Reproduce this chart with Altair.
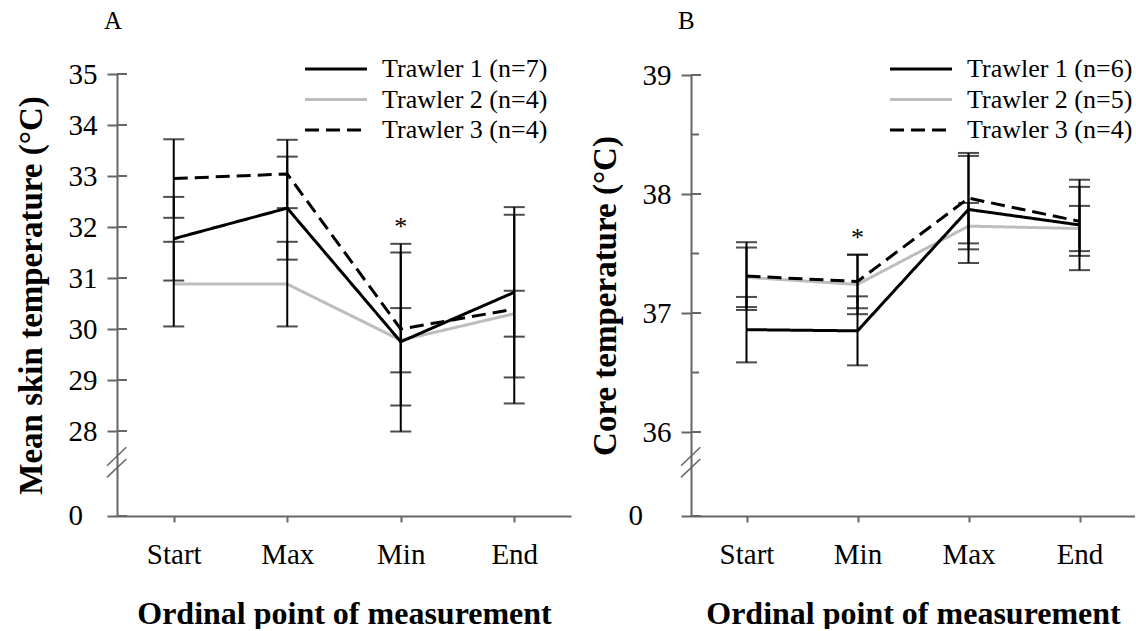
import altair as alt
import pandas as pd

# ---- data -------------------------------------------------------------
TRAWLERS = ["Trawler 1", "Trawler 2", "Trawler 3"]

# Panel A: mean skin temperature (°C), mean ± SD
POINTS_A = ["Start", "Max", "Min", "End"]
N_A = [7, 4, 4]
SKIN_MEAN = [
    [31.77, 32.37, 29.75, 30.72],
    [30.88, 30.88, 29.78, 30.30],
    [32.95, 33.04, 30.00, 30.39],
]
SKIN_SD = [
    [0.82, 1.01, 1.92, 1.67],
    [0.83, 0.83, 0.63, 0.45],
    [0.77, 0.67, 1.50, 1.85],
]
SKIN_TICKS = [0, 28, 29, 30, 31, 32, 33, 34, 35]

# Panel B: core temperature (°C), mean ± SD
POINTS_B = ["Start", "Min", "Max", "End"]
N_B = [6, 5, 4]
CORE_MEAN = [
    [36.86, 36.85, 37.87, 37.74],
    [37.30, 37.24, 37.73, 37.71],
    [37.31, 37.265, 37.965, 37.77],
]
CORE_SD = [
    [0.275, 0.29, 0.45, 0.38],
    [0.25, 0.25, 0.195, 0.19],
    [0.285, 0.225, 0.38, 0.29],
]
CORE_TICKS = [0, 36, 37, 38, 39]
CORE_MINOR = [36.5, 37.5, 38.5]

# ---- style ------------------------------------------------------------
SERIF = "Liberation Serif"
AXIS_GREY = "#666666"
LINE_STYLE = {  # colour, dash
    "Trawler 1": ("black", [1, 0]),
    "Trawler 2": ("#bdbdbd", [1, 0]),
    "Trawler 3": ("black", [14, 7]),
}
DRAW_ORDER = ["Trawler 2", "Trawler 1", "Trawler 3"]
PLOT_H = 449
TICK_FS = 29
TITLE_FS = 32
Y_TITLE_FS = 33
LEGEND_FS = 26


def one_row():
    return pd.DataFrame({"k": [0]})


def panel(points, means, sds, ns, ticks, minor, y_dom, y_rng, width,
          y_title, letter, sig_point, legend_x, zero_x):
    rows = []
    for i, t in enumerate(TRAWLERS):
        for j, p in enumerate(points):
            m, s = means[i][j], sds[i][j]
            rows.append(dict(point=p, trawler=t, mean=m, lo=m - s, hi=m + s))
    df = pd.DataFrame(rows)

    x_axis = alt.Axis(
        labelFont=SERIF, labelFontSize=TICK_FS, labelColor="black", labelAngle=0,
        labelPadding=18, tickSize=6, tickWidth=2, tickColor=AXIS_GREY,
        domainColor=AXIS_GREY, domainWidth=2, grid=False,
        titleFont=SERIF, titleFontSize=TITLE_FS, titleFontWeight="bold",
        titleColor="black", titlePadding=29,
    )
    x_enc = alt.X("point:N", sort=points, title="Ordinal point of measurement",
                  scale=alt.Scale(type="point", padding=0.5), axis=x_axis)

    y_scale = alt.Scale(domain=y_dom, range=y_rng, nice=False, zero=False)
    y_axis = alt.Axis(
        values=ticks, format="d", labelOverlap=False,
        labelExpr="datum.value == 0 ? '' : datum.label",
        labelFont=SERIF, labelFontSize=TICK_FS, labelColor="black", labelPadding=10,
        tickSize=10, tickWidth=2, tickColor=AXIS_GREY,
        domainColor=AXIS_GREY, domainWidth=2, grid=False,
        titleFont=SERIF, titleFontSize=Y_TITLE_FS, titleFontWeight="bold",
        titleColor="black", titlePadding=20,
    )

    def y_enc(field):
        return alt.Y(f"{field}:Q", scale=y_scale, axis=y_axis, title=y_title)

    layers = []
    # mean lines
    for t in DRAW_ORDER:
        colour, dash = LINE_STYLE[t]
        layers.append(
            alt.Chart(df[df.trawler == t])
            .mark_line(color=colour, strokeDash=dash, strokeWidth=3)
            .encode(x=x_enc, y=y_enc("mean"))
        )
    # error bars: stem and caps
    layers.append(alt.Chart(df).mark_rule(color="black", strokeWidth=2)
                  .encode(x=x_enc, y=y_enc("lo"), y2="hi:Q"))
    for f in ["lo", "hi"]:
        layers.append(alt.Chart(df).mark_tick(color="black", size=21, thickness=2)
                      .encode(x=x_enc, y=y_enc(f)))

    # inward half of the major ticks, and minor ticks
    layers.append(alt.Chart(pd.DataFrame({"v": ticks}))
                  .mark_rule(color=AXIS_GREY, strokeWidth=2)
                  .encode(y=y_enc("v"), x=alt.value(0), x2=alt.value(10)))
    if minor:
        layers.append(alt.Chart(pd.DataFrame({"v": minor}))
                      .mark_rule(color=AXIS_GREY, strokeWidth=2)
                      .encode(y=y_enc("v"), x=alt.value(0), x2=alt.value(8)))

    # the zero label sits apart from the others, below the axis break
    layers.append(alt.Chart(pd.DataFrame({"v": [0]}))
                  .mark_text(text="0", font=SERIF, fontSize=TICK_FS, align="right",
                             baseline="middle", color="black")
                  .encode(y=y_enc("v"), x=alt.value(zero_x)))

    # axis break marks
    for off in (0, 11.7):
        layers.append(alt.Chart(one_row()).mark_rule(color=AXIS_GREY, strokeWidth=1.5)
                      .encode(x=alt.value(-10), x2=alt.value(9.3),
                              y=alt.value(398.7 + off), y2=alt.value(380.3 + off)))

    # significance marker
    sig = df[df.point == sig_point]
    sig_df = pd.DataFrame({"point": [sig_point], "y": [sig.hi.max()]})
    layers.append(alt.Chart(sig_df)
                  .mark_text(text="*", font=SERIF, fontSize=26, dy=-9,
                             baseline="alphabetic", color="black")
                  .encode(x=x_enc, y=y_enc("y")))

    # panel letter
    layers.append(alt.Chart(one_row())
                  .mark_text(text=letter, font=SERIF, fontSize=25, align="left",
                             baseline="alphabetic", color="black")
                  .encode(x=alt.value(-13), y=alt.value(-38)))

    # legend
    for i, t in enumerate(TRAWLERS):
        colour, dash = LINE_STYLE[t]
        ly = 2 + i * 30.5
        layers.append(alt.Chart(one_row())
                      .mark_rule(color=colour, strokeDash=dash, strokeWidth=3)
                      .encode(x=alt.value(legend_x), x2=alt.value(legend_x + 62),
                              y=alt.value(ly)))
        layers.append(alt.Chart(one_row())
                      .mark_text(text=f"{t} (n={ns[i]})", font=SERIF, fontSize=LEGEND_FS,
                                 align="left", baseline="middle", color="black")
                      .encode(x=alt.value(legend_x + 77), y=alt.value(ly)))

    return alt.layer(*layers).properties(width=width, height=PLOT_H)


panel_a = panel(POINTS_A, SKIN_MEAN, SKIN_SD, N_A, SKIN_TICKS, None,
                [0, 28, 35], [PLOT_H, 364, 7], 454,
                "Mean skin temperature (°C)", "A", "Min", 188, -34)
panel_b = panel(POINTS_B, CORE_MEAN, CORE_SD, N_B, CORE_TICKS, CORE_MINOR,
                [0, 36, 39], [PLOT_H, 365, 8], 444,
                "Core temperature (°C)", "B", "Min", 199, -48)

chart = (
    alt.hconcat(panel_a, panel_b, spacing=18)
    .resolve_scale(x="independent", y="independent")
    .properties(padding={"left": 15, "top": 9, "right": 0, "bottom": 0})
    .configure_view(stroke=None)
)

chart.save("out.html", embed_options={"renderer": "svg", "actions": False})
